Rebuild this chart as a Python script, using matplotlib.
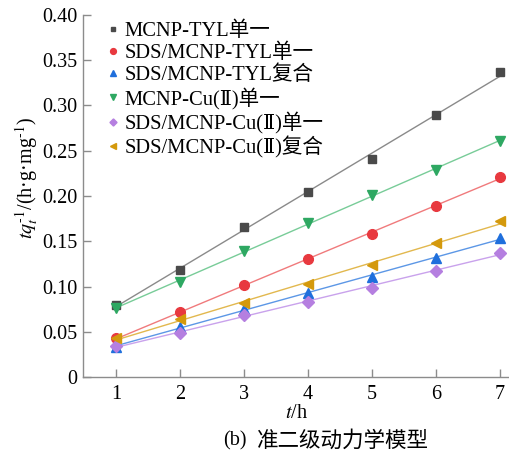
import numpy as np
import matplotlib
matplotlib.use("Agg")
import matplotlib.pyplot as plt
from matplotlib.ticker import FuncFormatter

plt.rcParams['font.family'] = ['Liberation Serif', 'DejaVu Serif', 'Noto Sans CJK SC']
plt.rcParams['mathtext.fontset'] = 'stix'

t = [1, 2, 3, 4, 5, 6, 7]
labels = ["MCNP-TYL单一", "SDS/MCNP-TYL单一", "SDS/MCNP-TYL复合",
          "MCNP-Cu(Ⅱ)单一", "SDS/MCNP-Cu(Ⅱ)单一", "SDS/MCNP-Cu(Ⅱ)复合"]
mcnp_tyl = [0.080, 0.118, 0.166, 0.204, 0.241, 0.289, 0.337]
sds_tyl = [0.043, 0.0716, 0.1014, 0.130, 0.158, 0.1895, 0.221]
sds_tyl_comp = [0.0335, 0.0557, 0.0749, 0.0926, 0.111, 0.1313, 0.154]
mcnp_cu = [0.076, 0.1054, 0.1397, 0.170, 0.2013, 0.229, 0.261]
sds_cu = [0.0343, 0.0483, 0.0689, 0.0826, 0.0985, 0.1176, 0.1375]
sds_cu_comp = [0.0428, 0.0638, 0.0815, 0.1029, 0.1239, 0.148, 0.172]
series = [mcnp_tyl, sds_tyl, sds_tyl_comp, mcnp_cu, sds_cu, sds_cu_comp]

markers = ['s', 'o', '^', 'v', 'D', '<']
msizes = [6, 7, 7, 7, 6, 7]
colors = ['#4a4a4a', '#e8393f', '#1f6fdc', '#2ea862', '#b57fe0', '#d4990c']
line_colors = ['#8a8a8a', '#f07a7c', '#5c97e6', '#78cc98', '#c9a2ec', '#e2b84e']

fig = plt.figure(figsize=(5.10, 4.57), dpi=100)
ax = fig.add_axes([83/510, 80/457, 427/510, 362/457])

x = np.array(t, dtype=float)
for ys, m, ms, c, lc, lab in zip(series, markers, msizes, colors, line_colors, labels):
    k, b = np.polyfit(x, np.array(ys), 1)
    ax.plot([x[0], x[-1]], [k*x[0]+b, k*x[-1]+b], color=lc, lw=1.0, zorder=2)
    ax.plot(x, ys, ls='none', marker=m, ms=ms, color=c, mec=c, label=lab, zorder=3)

ax.set_xlim(1 - 33/64, 7 + 10/64)
ax.set_ylim(0, 0.40)
ax.set_xticks(t)
ax.set_yticks(np.arange(0, 0.401, 0.05))
ax.yaxis.set_major_formatter(FuncFormatter(lambda v, p: '0' if abs(v) < 1e-9 else f'{v:.2f}'))
for s in ['top', 'right']:
    ax.spines[s].set_visible(False)
for s in ['left', 'bottom']:
    ax.spines[s].set_color('#8c8c8c')
    ax.spines[s].set_linewidth(1.0)
ax.tick_params(direction='in', length=6, width=1, color='#8c8c8c', labelsize=14.5)
ax.tick_params(axis='y', pad=4)
ax.tick_params(axis='x', pad=6)

ax.set_xlabel(r'$t$/h', fontsize=14.5, labelpad=0)
fig.text(27/510, 1 - 178/457, r'$tq_t^{\text{-}1}$/(h·g·mg$^{\text{-}1}$)', rotation=90,
         ha='center', va='center', fontsize=14.5)

leg = ax.legend(loc='upper left', bbox_to_anchor=(0.04, 1.005), frameon=False,
                fontsize=14.8, handlelength=0.5, handletextpad=0.3,
                labelspacing=0.12, markerscale=0.6, borderaxespad=0)

fig.text(223/510, 1 - 441/457, '(b)', ha='left', va='center', fontsize=14.5)
fig.text(257/510, 1 - 441/457, '准二级动力学模型', ha='left', va='center',
         fontsize=15.5, family=['Noto Sans CJK SC'])

fig.savefig('out.png', dpi=100)
